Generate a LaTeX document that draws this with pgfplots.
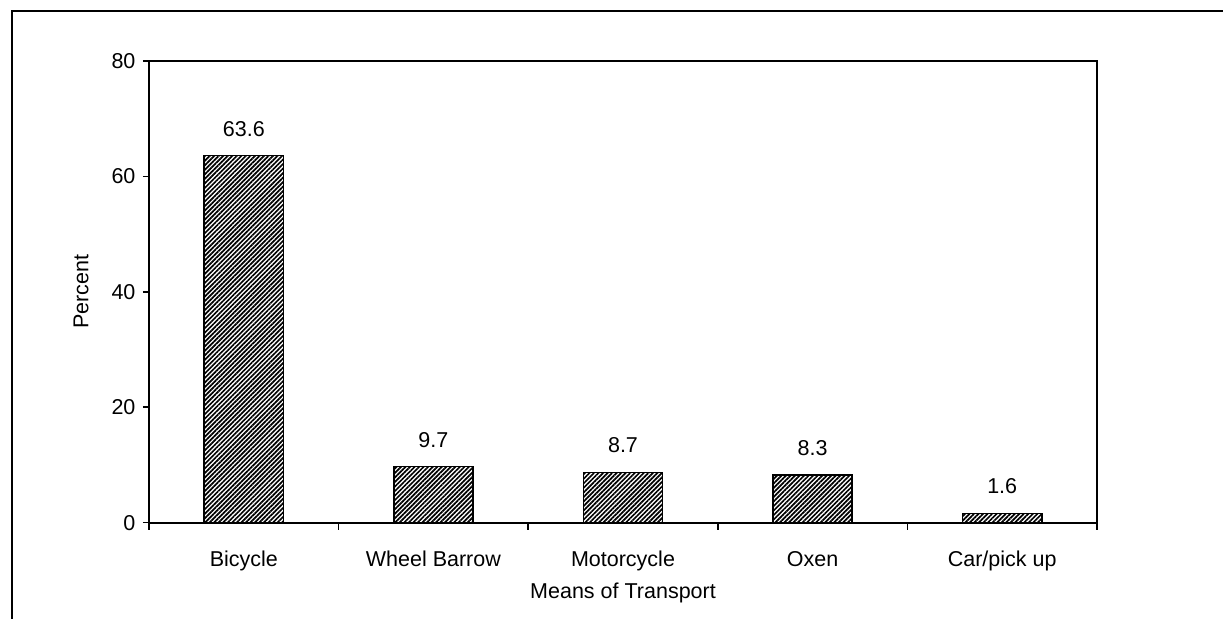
\documentclass[border=0pt]{standalone}
\usepackage{fontspec}
\setmainfont{Liberation Sans}
\usepackage{pgfplots}
\pgfplotsset{compat=1.18}
\usetikzlibrary{patterns.meta}

\begin{document}
\fontsize{10.75}{13}\selectfont
\begin{tikzpicture}[x=1pt, y=1pt]
\useasboundingbox (0,0) rectangle (611.5,309.5);
% outer frame (only top and left edges are visible)
\draw[line width=1pt] (5.85,0) -- (5.85,304) -- (611.5,304);

\begin{axis}[
    at={(74.5pt,48.15pt)}, anchor=south west,
    scale only axis, width=474pt, height=230.85pt,
    xmin=-0.5, xmax=4.5, ymin=0, ymax=80,
    ytick={0,20,...,80},
    xtick={0,...,4},
    xticklabels={Bicycle,Wheel Barrow,Motorcycle,Oxen,Car/pick up},
    minor xtick={-0.5,0.5,...,4.5},
    xtick pos=lower, ytick pos=left,
    tick align=outside,
    major tick length=3pt, minor tick length=3.5pt,
    major x tick style={draw=none},
    tick style={line width=0.8pt, black},
    axis line style={line width=1pt},
    /pgf/number format/assume math mode=true,
    xticklabel style={anchor=base, yshift=-19.15pt},
    yticklabel style={anchor=east},
    every axis x label/.style={at={(axis description cs:0.5,0)}, anchor=base, yshift=-38.15pt},
    every axis y label/.style={at={(axis description cs:0,0.5)}, xshift=-34pt, rotate=90, anchor=center},
    xlabel={Means of Transport},
    ylabel={Percent},
    ybar, bar width=0.418,
    nodes near coords,
    every node near coord/.append style={anchor=base, yshift=9.75pt},
]
\addplot[draw=black, line width=0.75pt,
    pattern={Lines[angle=45, distance=1.6pt, line width=0.85pt]}, pattern color=black]
    coordinates {(0,63.6) (1,9.7) (2,8.7) (3,8.3) (4,1.6)};
\end{axis}
\end{tikzpicture}
\end{document}
